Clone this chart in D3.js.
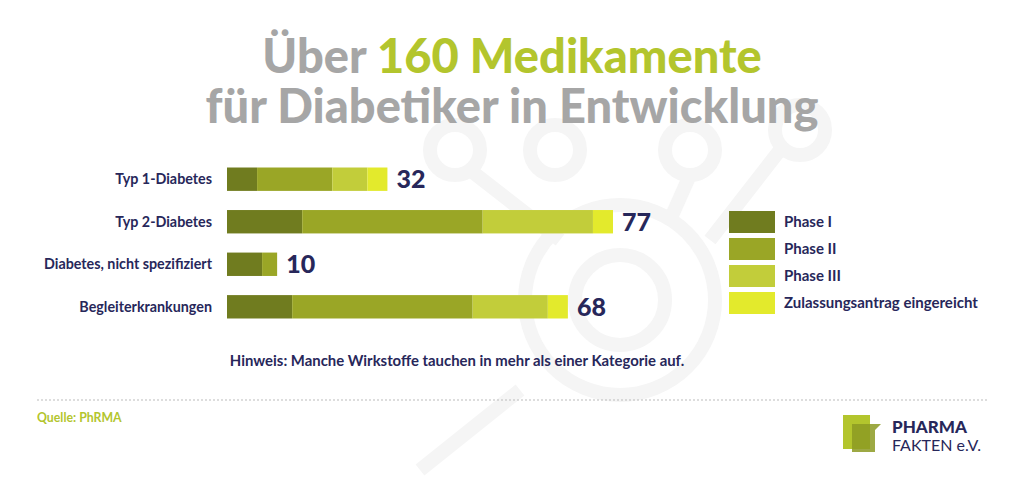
<!DOCTYPE html>
<html><head><meta charset="utf-8">
<script src="https://cdn.jsdelivr.net/npm/d3@7"></script>
<style>body{margin:0;background:#fff}svg{display:block;font-family:Lato,sans-serif}</style>
</head><body><div id="chart"></div>
<script>
const categories = ["Typ 1-Diabetes", "Typ 2-Diabetes", "Diabetes, nicht spezifiziert", "Begleiterkrankungen"];
const phases = ["Phase I", "Phase II", "Phase III", "Zulassungsantrag eingereicht"];
const phase1 = [6, 15, 7, 13];
const phase2 = [15, 36, 3, 36];
const phase3 = [7, 22, 0, 15];
const zulassung = [4, 4, 0, 4];
const totals = [32, 77, 10, 68];
const colors = ["#707c1f", "#9aa626", "#c2cd3a", "#e3ea2c"];

const W = 1024, H = 478;
const svg = d3.select("#chart").append("svg").attr("width", W).attr("height", H);

// faint background decoration
const deco = svg.append("g").attr("fill", "none").attr("stroke", "#f5f5f5").attr("stroke-width", 14);
deco.append("circle").attr("cx", 620).attr("cy", 300).attr("r", 95);
deco.append("circle").attr("cx", 620).attr("cy", 300).attr("r", 45);
deco.append("circle").attr("cx", 455).attr("cy", 150).attr("r", 25);
deco.append("circle").attr("cx", 555).attr("cy", 150).attr("r", 25);
deco.append("circle").attr("cx", 690).attr("cy", 150).attr("r", 25);
deco.append("circle").attr("cx", 800).attr("cy", 130).attr("r", 25);
deco.append("line").attr("x1", 470).attr("y1", 170).attr("x2", 560).attr("y2", 240);
deco.append("line").attr("x1", 690).attr("y1", 175).attr("x2", 670).attr("y2", 220);
deco.append("line").attr("x1", 780).attr("y1", 150).attr("x2", 710).attr("y2", 240);
deco.append("line").attr("x1", 520).attr("y1", 390).attr("x2", 420).attr("y2", 470);

// title
const title = svg.append("text").attr("text-anchor", "middle").attr("font-weight", 900)
  .attr("font-size", 47).attr("fill", "#a6a6a6");
title.append("tspan").attr("x", 512).attr("y", 73).text("Über ")
  .append("tspan").attr("fill", "#b3c52d").text("160 Medikamente");
title.append("tspan").attr("x", 512).attr("y", 123).text("für Diabetiker in Entwicklung");

const x = d3.scaleLinear().domain([0, 77]).range([227, 613]);
const y = d3.scaleBand().domain(categories).range([159, 327]).paddingInner(0.45).paddingOuter(0.2);

const rows = categories.map((c, i) => ({cat: c, vals: [phase1[i], phase2[i], phase3[i], zulassung[i]], total: totals[i]}));
const stacked = d3.stack().keys([0, 1, 2, 3]).value((d, k) => d.vals[k])(rows);

svg.selectAll("g.layer").data(stacked).enter().append("g").attr("class", "layer")
  .attr("fill", (d, i) => colors[i])
  .selectAll("rect").data(d => d).enter().append("rect")
  .attr("x", d => x(d[0])).attr("width", d => x(d[1]) - x(d[0]))
  .attr("y", d => y(d.data.cat)).attr("height", y.bandwidth());

svg.selectAll("text.cat").data(rows).enter().append("text")
  .attr("x", 212).attr("y", d => y(d.cat) + y.bandwidth() / 2).attr("dy", "0.35em")
  .attr("text-anchor", "end").attr("font-size", 14.3).attr("font-weight", 700).attr("fill", "#27275a")
  .text(d => d.cat);

svg.selectAll("text.total").data(rows).enter().append("text")
  .attr("x", d => x(d.total) + 9).attr("y", d => y(d.cat) + y.bandwidth() / 2).attr("dy", "0.36em")
  .attr("font-size", 25).attr("font-weight", 900).attr("fill", "#27275a")
  .text(d => d.total);

// legend
const lg = svg.selectAll("g.lg").data(phases).enter().append("g")
  .attr("transform", (d, i) => `translate(729,${211 + i * 27})`);
lg.append("rect").attr("width", 46).attr("height", 22).attr("fill", (d, i) => colors[i]);
lg.append("text").attr("x", 55).attr("y", 11).attr("dy", "0.35em").attr("font-size", 15)
  .attr("font-weight", 700).attr("fill", "#27275a").text(d => d);

svg.append("text").attr("x", 457).attr("y", 366).attr("text-anchor", "middle")
  .attr("font-size", 14.9).attr("font-weight", 700).attr("fill", "#27275a")
  .text("Hinweis: Manche Wirkstoffe tauchen in mehr als einer Kategorie auf.");

svg.append("line").attr("x1", 37).attr("x2", 987).attr("y1", 400).attr("y2", 400)
  .attr("stroke", "#bbb").attr("stroke-dasharray", "2,2");

svg.append("text").attr("x", 37).attr("y", 422).attr("font-size", 12.3).attr("font-weight", 700)
  .attr("fill", "#b3c52d").text("Quelle: PhRMA");

// logo
const logo = svg.append("g").attr("transform", "translate(843,415)");
logo.append("rect").attr("x", 0).attr("y", 0).attr("width", 27).attr("height", 34).attr("fill", "#b3c52d");
logo.append("path").attr("d", "M9,9 H38 L32,15 V37 H9 Z").attr("fill", "#8c9a23").attr("opacity", 0.85);
logo.append("text").attr("x", 49).attr("y", 18).attr("font-size", 17).attr("font-weight", 900)
  .attr("fill", "#27275a").text("PHARMA");
logo.append("text").attr("x", 49).attr("y", 36).attr("font-size", 16)
  .attr("fill", "#27275a").text("FAKTEN e.V.");
</script></body></html>
